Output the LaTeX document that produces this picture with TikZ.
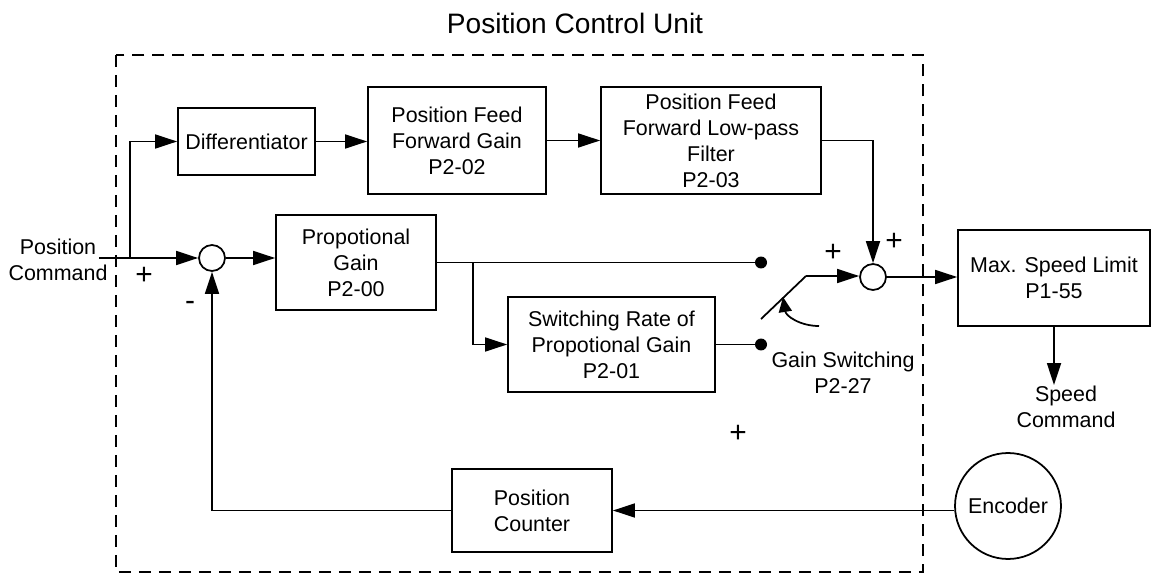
\documentclass[tikz,border=0pt]{standalone}
\usepackage{fontspec}
\setmainfont{Liberation Sans}
\usetikzlibrary{arrows.meta,positioning,calc}
\newcommand{\blkfont}{\fontsize{12.2}{14.8}\selectfont}
\newcommand{\ttlfont}{\fontsize{16}{19}\selectfont}
\newcommand{\sgnfont}{\fontsize{17}{19}\selectfont}

\begin{document}
\begin{tikzpicture}[
    x=0.02cm, y=-0.02cm,
    blk/.style={draw, line width=1pt, align=center, font=\blkfont, inner sep=0pt},
    sumc/.style={draw, circle, line width=1pt, minimum size=0.52cm, inner sep=0pt},
    dotc/.style={circle, fill, inner sep=0pt, minimum size=0.24cm},
    lbl/.style={align=center, font=\blkfont, inner sep=0pt},
    sgn/.style={font=\sgnfont, inner sep=0pt},
    arr/.style={-{Triangle[length=0.44cm, width=0.28cm]}, line width=1pt},
    wire/.style={line width=1pt},
  ]
  \useasboundingbox (0,0) rectangle (1153,574);

  % Dashed frame and title
  \draw[line width=1pt, dash pattern=on 0.24cm off 0.16cm] (116,55) rectangle (923,572);
  \node[font=\ttlfont, inner sep=0pt] (title) at (575,23) {Position Control Unit};

  % Feed forward path
  \node[blk, minimum width=2.74cm, minimum height=1.34cm] (diff) at (246.5,141.5) {Differentiator};
  \node[blk, minimum width=3.56cm, minimum height=2.14cm] (ffgain) at (457,140.5)
    {Position Feed\\Forward Gain\\P2-02};
  \node[blk, minimum width=4.4cm, minimum height=2.14cm] (lpf) at (711,140.5)
    {Position Feed\\Forward Low-pass\\Filter\\P2-03};

  % Main path
  \node[lbl] (poscmd) at (58,260) {Position\\Command};
  \coordinate (cmdin) at (99,258);
  \coordinate (br1) at (130,258);
  \node[sumc] (sum1) at (212,258) {};
  \node[blk, minimum width=3.2cm, minimum height=1.9cm] (pgain) at (356,262.5)
    {Propotional\\Gain\\P2-00};
  \coordinate (br2) at (473,262.5);
  \node[blk, minimum width=4.14cm, minimum height=1.9cm] (swrate) at (611.5,344.5)
    {Switching Rate of\\Propotional Gain\\P2-01};
  \node[dotc] (dot1) at (761,262.5) {};
  \node[dotc] (dot2) at (761,344.5) {};

  % Gain switch
  \coordinate (lev0) at (761,319);
  \coordinate (lev1) at (806,276);
  \coordinate (sw0) at (819,326);
  \coordinate (sw1) at (783,297);
  \node[sumc] (sum2) at (873,277) {};
  \node[lbl] (gsw) at (843,373) {Gain Switching\\P2-27};

  % Output side
  \node[blk, minimum width=3.84cm, minimum height=1.92cm] (maxspd) at (1054,278)
    {Max. Speed Limit\\P1-55};
  \coordinate (spdout) at (1054,385);
  \node[lbl] (spdcmd) at (1066,407) {Speed\\Command};

  % Feedback
  \node[draw, circle, line width=1pt, minimum size=2.12cm, inner sep=0pt, font=\blkfont] (enc) at (1008,506) {Encoder};
  \node[blk, minimum width=3.2cm, minimum height=1.66cm] (poscnt) at (532,510.5)
    {Position\\Counter};

  % Signs
  \node[sgn] (p1) at (144,276) {+};
  \node[sgn] (m1) at (190,306) {-};
  \node[sgn] (p2) at (833,253) {+};
  \node[sgn] (p3) at (894,242) {+};
  \node[sgn] (p4) at (738,434) {+};

  % Connections
  \draw[arr] (cmdin) -- (sum1.west);
  \draw[arr] (br1) |- (diff.west);
  \draw[arr] (diff.east) -- (diff.east -| ffgain.west);
  \draw[arr] (ffgain.east) -- (ffgain.east -| lpf.west);
  \draw[arr] (lpf.east) -| (sum2.north);
  \draw[arr] (sum1.east) -- (sum1.east -| pgain.west);
  \draw[wire] (pgain.east) -- (dot1);
  \draw[arr] (br2) |- (swrate.west);
  \draw[wire] (swrate.east) -- (dot2);
  \draw[wire] (lev0) -- (lev1);
  \draw[arr] (lev1) -- (lev1 -| sum2.west);
  \draw[-{Triangle[length=0.3cm, width=0.26cm]}, line width=1pt]
    (sw0) .. controls (800,326) and (786,316) .. (sw1);
  \draw[arr] (sum2.east) -- (sum2.east -| maxspd.west);
  \draw[arr] (maxspd.south) -- (spdout);
  \draw[arr] (enc.west |- poscnt.east) -- (poscnt.east);
  \draw[arr] (poscnt.west) -| (sum1.south);

\end{tikzpicture}
\end{document}
